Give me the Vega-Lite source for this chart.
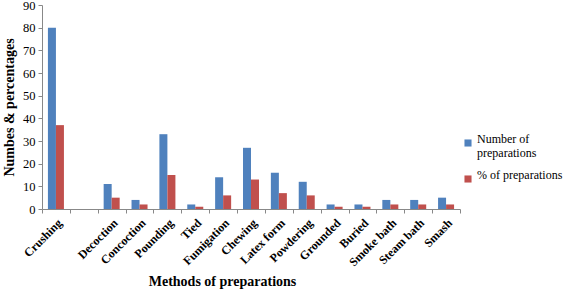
{
  "$schema": "https://vega.github.io/schema/vega-lite/v6.json",
  "width": 418,
  "height": 204,
  "autosize": {"type": "none"},
  "padding": {"left": 42, "top": 5, "right": 105, "bottom": 80},
  "background": "white",
  "config": {"font": "Liberation Serif", "view": {"stroke": null}},
  "data": {"values": [
    {"method": "Crushing", "series": "Number of preparations", "value": 80},
    {"method": "Crushing", "series": "% of preparations", "value": 37},
    {"method": " ", "series": "Number of preparations", "value": 0},
    {"method": " ", "series": "% of preparations", "value": 0},
    {"method": "Decoction", "series": "Number of preparations", "value": 11},
    {"method": "Decoction", "series": "% of preparations", "value": 5},
    {"method": "Concoction", "series": "Number of preparations", "value": 4},
    {"method": "Concoction", "series": "% of preparations", "value": 2},
    {"method": "Pounding", "series": "Number of preparations", "value": 33},
    {"method": "Pounding", "series": "% of preparations", "value": 15},
    {"method": "Tied", "series": "Number of preparations", "value": 2},
    {"method": "Tied", "series": "% of preparations", "value": 1},
    {"method": "Fumigation", "series": "Number of preparations", "value": 14},
    {"method": "Fumigation", "series": "% of preparations", "value": 6},
    {"method": "Chewing", "series": "Number of preparations", "value": 27},
    {"method": "Chewing", "series": "% of preparations", "value": 13},
    {"method": "Latex form", "series": "Number of preparations", "value": 16},
    {"method": "Latex form", "series": "% of preparations", "value": 7},
    {"method": "Powdering", "series": "Number of preparations", "value": 12},
    {"method": "Powdering", "series": "% of preparations", "value": 6},
    {"method": "Grounded", "series": "Number of preparations", "value": 2},
    {"method": "Grounded", "series": "% of preparations", "value": 1},
    {"method": "Buried", "series": "Number of preparations", "value": 2},
    {"method": "Buried", "series": "% of preparations", "value": 1},
    {"method": "Smoke bath", "series": "Number of preparations", "value": 4},
    {"method": "Smoke bath", "series": "% of preparations", "value": 2},
    {"method": "Steam bath", "series": "Number of preparations", "value": 4},
    {"method": "Steam bath", "series": "% of preparations", "value": 2},
    {"method": "Smash", "series": "Number of preparations", "value": 5},
    {"method": "Smash", "series": "% of preparations", "value": 2}
  ]},
  "mark": {"type": "bar"},
  "encoding": {
    "x": {
      "field": "method", "type": "nominal", "sort": null,
      "scale": {"paddingInner": 0, "paddingOuter": 0},
      "axis": {
        "title": "Methods of preparations",
        "titleFont": "Liberation Serif",
        "titleFontSize": 14, "titleFontWeight": "bold", "titleColor": "black",
        "titleX": 180, "titleY": 76, "titleAlign": "center", "titleBaseline": "alphabetic",
        "labelAngle": -45, "labelFont": "Liberation Serif", "labelFontSize": 12, "labelFontWeight": "bold", "labelColor": "black",
        "labelPadding": 4,
        "tickBand": "extent", "tickSize": 4, "tickColor": "#888888", "domainColor": "#888888",
        "grid": false
      }
    },
    "xOffset": {"field": "series", "sort": null, "scale": {"paddingOuter": 0.74, "paddingInner": 0}},
    "y": {
      "field": "value", "type": "quantitative",
      "scale": {"domain": [0, 90], "nice": false},
      "axis": {
        "title": "Numbes & percentages",
        "titleFont": "Liberation Serif",
        "titleFontSize": 14, "titleFontWeight": "bold", "titleColor": "black",
        "titlePadding": 6,
        "values": [0, 10, 20, 30, 40, 50, 60, 70, 80, 90],
        "labelFont": "Liberation Serif", "labelFontSize": 12.5, "labelColor": "black", "labelPadding": 3,
        "tickSize": 4, "tickColor": "#888888", "domainColor": "#888888",
        "grid": false
      }
    },
    "color": {
      "field": "series", "type": "nominal", "sort": null,
      "scale": {"range": ["#4F81BD", "#C0504D"]},
      "legend": {
        "title": null,
        "orient": "none", "legendX": 420, "legendY": 132,
        "symbolType": "square", "symbolSize": 50, "symbolStrokeWidth": 0,
        "labelFont": "Liberation Serif", "labelFontSize": 12, "labelColor": "black", "labelBaseline": "alphabetic",
        "labelOffset": 3,
        "labelLineHeight": 16, "labelLimit": 200,
        "labelExpr": "datum.label == 'Number of preparations' ? ['Number of', 'preparations'] : datum.label",
        "rowPadding": 10
      }
    }
  }
}
